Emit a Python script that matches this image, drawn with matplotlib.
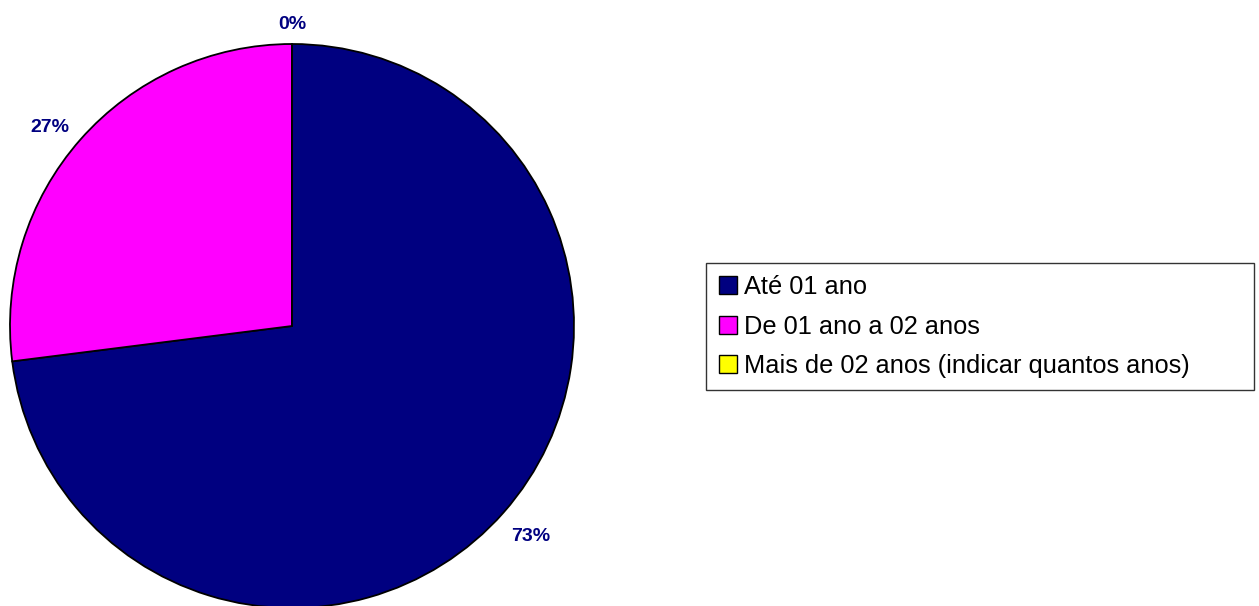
import matplotlib.pyplot as plt

plt.rcParams['font.family'] = ['Liberation Sans', 'DejaVu Sans']

# Tempo de atuação
categorias = ['Até 01 ano', 'De 01 ano a 02 anos', 'Mais de 02 anos (indicar quantos anos)']
valores = [73, 27, 0]
cores = ['#000080', '#FF00FF', '#FFFF00']

fig = plt.figure(figsize=(12.59, 6.06), dpi=100)
W, H = 1259, 606
cx, cy, r = 292, 326, 282
ax = fig.add_axes([(cx - r) / W, (H - cy - r) / H, 2 * r / W, 2 * r / H])

wedges, textos, pcts = ax.pie(
    valores, colors=cores, startangle=90, counterclock=False,
    autopct='%1.0f%%', pctdistance=1.13,
    wedgeprops=dict(edgecolor='black', linewidth=1.3),
    textprops=dict(color='#000080', fontsize=14, fontweight='bold'),
)
# rótulo da fatia vazia fica logo acima do topo
pcts[2].set_position((0, 1.07))
pcts[1].set_position((-0.86, 0.705))

ax.set_xlim(-1, 1)
ax.set_ylim(-1, 1)
ax.set_aspect('equal')
ax.axis('off')

# caixa da legenda com largura fixa
lx0, ly0, lw, lh = 706 / W, (H - 389) / H, 548 / W, 125 / H
leg = fig.legend(
    wedges, categorias, loc='center left', bbox_to_anchor=(lx0, ly0, lw, lh),
    mode='expand', fontsize=18.3, frameon=True, fancybox=False, edgecolor='black',
    handlelength=0.7, handleheight=0.7, handletextpad=0.3,
    labelspacing=0.6, borderpad=0.5, borderaxespad=0,
)
leg.get_frame().set_linewidth(1.0)
for h in leg.legend_handles:
    h.set_linewidth(1.0)

fig.savefig('out.png', dpi=100)
